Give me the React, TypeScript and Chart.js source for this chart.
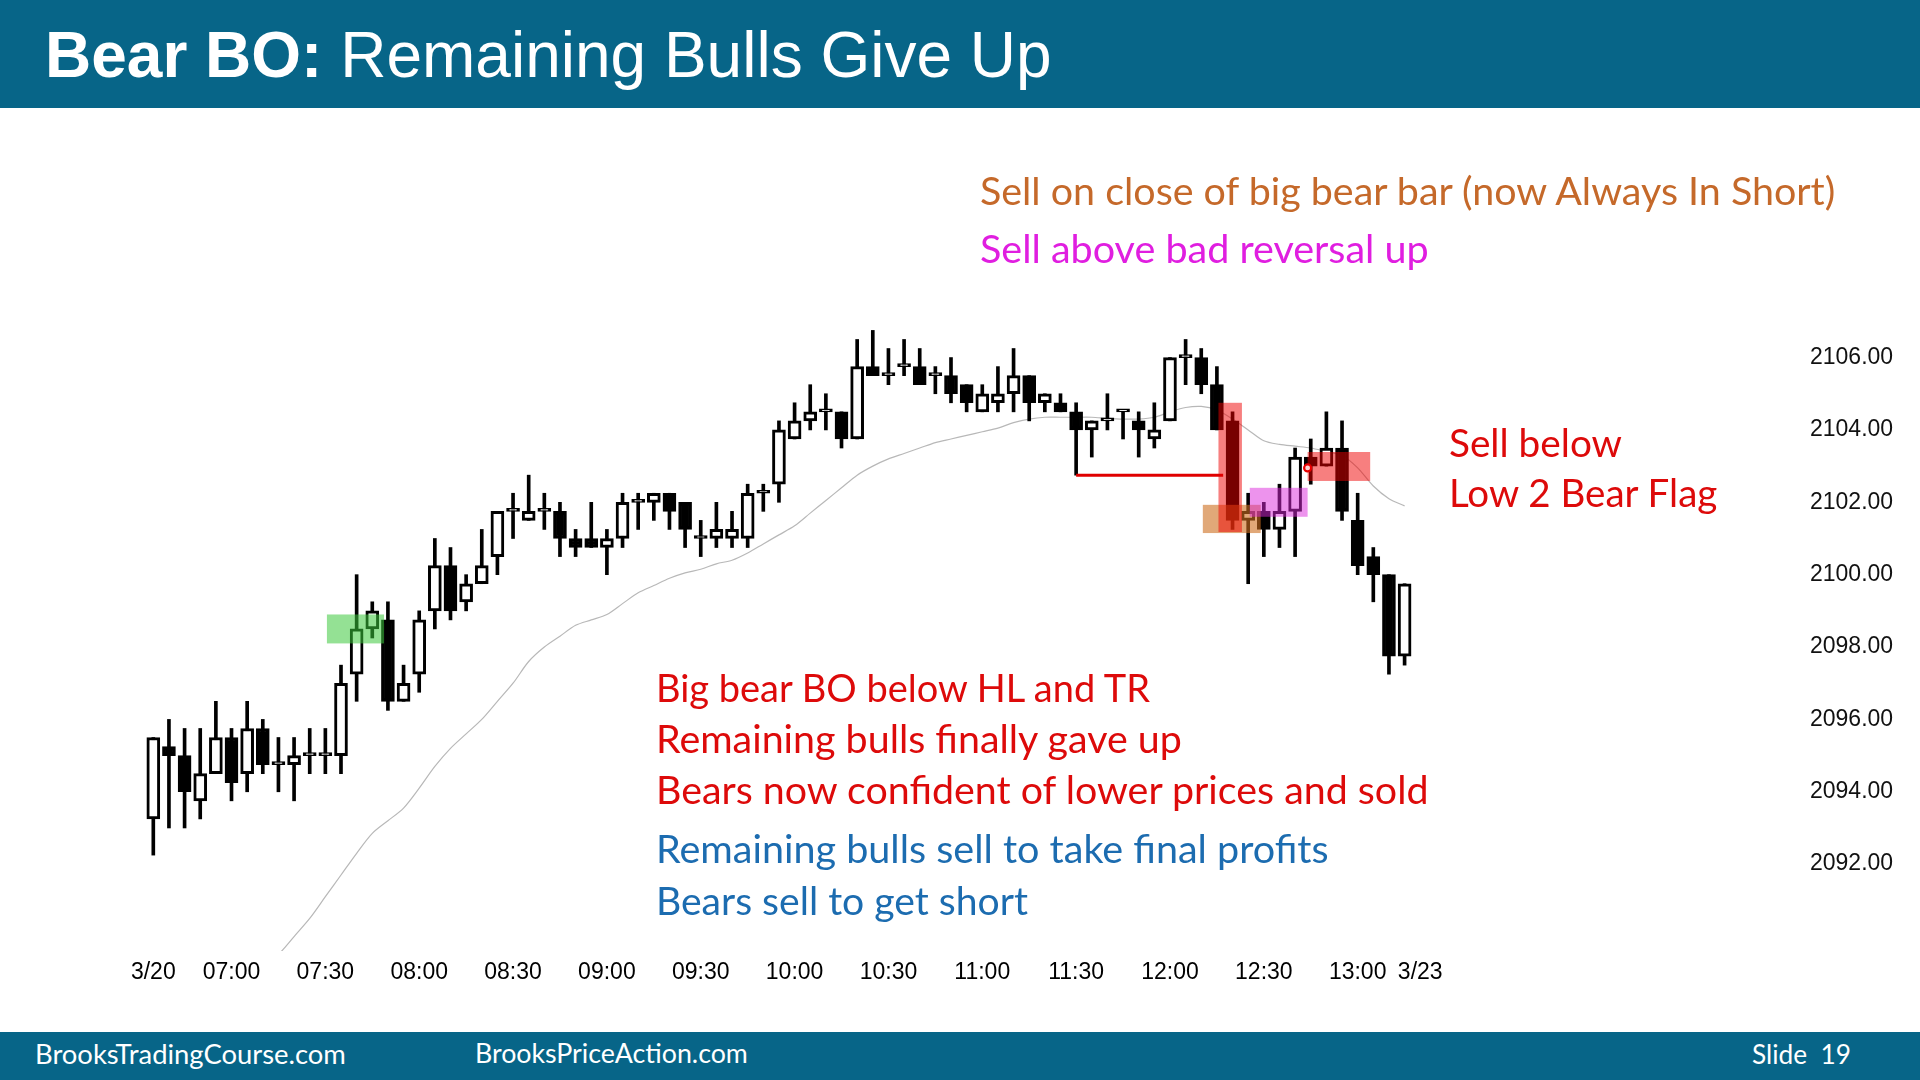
import React, { useEffect, useRef } from "react";
import { Chart, registerables } from "chart.js";

Chart.register(...registerables);

// ---------- DATA (5-minute bars, index 0 = 06:35 on 3/20) ----------
const opens = [
  2093.25, 2095.25, 2095.0, 2093.75, 2094.5, 2095.5, 2094.5, 2095.75, 2094.75, 2094.75,
  2095.0, 2095.0, 2095.0, 2097.25, 2098.5, 2098.75, 2096.5, 2097.25, 2099.0, 2100.25,
  2099.25, 2099.75, 2100.5, 2101.75, 2101.5, 2101.75, 2101.75, 2101.0, 2101.0, 2100.75,
  2101.0, 2102.0, 2102.0, 2102.25, 2102.0, 2101.0, 2101.0, 2101.0, 2101.0, 2102.25,
  2102.5, 2103.75, 2104.25, 2104.5, 2104.5, 2103.75, 2105.75, 2105.5, 2105.75, 2105.75,
  2105.5, 2105.5, 2105.25, 2104.5, 2104.75, 2105.0, 2105.5, 2104.75, 2104.75, 2104.5,
  2104.0, 2104.25, 2104.5, 2104.25, 2103.75, 2104.25, 2106.0, 2106.0, 2105.25, 2104.25,
  2101.5, 2101.75, 2101.25, 2101.75, 2103.25, 2103.0, 2103.5, 2101.5, 2100.5, 2100.0,
  2097.75,
];
const highs = [
  2095.5, 2096.0, 2095.75, 2095.75, 2096.5, 2095.75, 2096.5, 2096.0, 2095.5, 2095.5,
  2095.75, 2095.75, 2097.5, 2100.0, 2099.25, 2099.25, 2097.5, 2099.0, 2101.0, 2100.75,
  2100.0, 2101.25, 2101.75, 2102.25, 2102.75, 2102.25, 2102.0, 2101.25, 2102.0, 2101.25,
  2102.25, 2102.25, 2102.25, 2102.25, 2102.0, 2101.5, 2102.0, 2101.75, 2102.5, 2102.5,
  2104.25, 2104.75, 2105.25, 2105.0, 2104.5, 2106.5, 2106.75, 2106.25, 2106.5, 2106.25,
  2105.75, 2106.0, 2105.25, 2105.25, 2105.75, 2106.25, 2105.5, 2105.0, 2105.0, 2104.75,
  2104.25, 2105.0, 2104.5, 2104.5, 2104.75, 2106.0, 2106.5, 2106.25, 2105.75, 2104.5,
  2102.25, 2102.0, 2102.5, 2103.5, 2103.75, 2104.5, 2104.25, 2102.25, 2100.75, 2100.0,
  2099.75,
];
const lows = [
  2092.25, 2093.0, 2093.0, 2093.25, 2094.5, 2093.75, 2094.0, 2094.5, 2094.0, 2093.75,
  2094.5, 2094.5, 2094.5, 2096.5, 2098.25, 2096.25, 2096.5, 2096.75, 2098.5, 2098.75,
  2099.0, 2099.75, 2100.0, 2101.0, 2101.5, 2101.25, 2100.5, 2100.5, 2100.75, 2100.0,
  2100.75, 2101.25, 2101.5, 2101.25, 2100.75, 2100.5, 2100.75, 2100.75, 2100.75, 2101.75,
  2102.0, 2103.75, 2104.0, 2104.0, 2103.5, 2103.75, 2105.5, 2105.25, 2105.5, 2105.25,
  2105.0, 2104.75, 2104.5, 2104.5, 2104.5, 2104.5, 2104.25, 2104.5, 2104.5, 2102.75,
  2103.25, 2104.0, 2103.75, 2103.25, 2103.5, 2104.25, 2105.25, 2105.0, 2104.0, 2101.25,
  2099.75, 2100.5, 2100.75, 2100.5, 2102.5, 2103.0, 2101.5, 2100.0, 2099.25, 2097.25,
  2097.5,
];
const closes = [
  2095.5, 2095.0, 2094.0, 2094.5, 2095.5, 2094.25, 2095.75, 2094.75, 2094.75, 2095.0,
  2095.0, 2095.0, 2097.0, 2098.5, 2099.0, 2096.5, 2097.0, 2098.75, 2100.25, 2099.0,
  2099.75, 2100.25, 2101.75, 2101.75, 2101.75, 2101.75, 2101.0, 2100.75, 2100.75, 2101.0,
  2102.0, 2102.0, 2102.25, 2101.75, 2101.25, 2101.0, 2101.25, 2101.25, 2102.25, 2102.25,
  2104.0, 2104.25, 2104.5, 2104.5, 2103.75, 2105.75, 2105.5, 2105.5, 2105.75, 2105.25,
  2105.5, 2105.0, 2104.75, 2105.0, 2105.0, 2105.5, 2104.75, 2105.0, 2104.5, 2104.0,
  2104.25, 2104.25, 2104.5, 2104.0, 2104.0, 2106.0, 2106.0, 2105.25, 2104.0, 2101.5,
  2101.75, 2101.25, 2101.75, 2103.25, 2103.0, 2103.5, 2101.75, 2100.25, 2100.0, 2097.75,
  2099.75,
];
// 20-bar EMA (bars 0-4 are far below the visible area)
const ema = [
  null, null, null, null, null, 2088.1, 2088.6, 2089.1, 2089.5, 2090.0,
  2090.5, 2091.1, 2091.7, 2092.3, 2092.85, 2093.2, 2093.55, 2094.1, 2094.7, 2095.2,
  2095.6, 2096.0, 2096.5, 2097.0, 2097.6, 2098.0, 2098.3, 2098.6, 2098.75, 2098.9,
  2099.2, 2099.5, 2099.7, 2099.9, 2100.05, 2100.15, 2100.3, 2100.4, 2100.6, 2100.85,
  2101.1, 2101.35, 2101.7, 2102.05, 2102.4, 2102.75, 2103.0, 2103.2, 2103.35, 2103.5,
  2103.65, 2103.75, 2103.85, 2103.95, 2104.05, 2104.2, 2104.3, 2104.35, 2104.35, 2104.35,
  2104.35, 2104.32, 2104.3, 2104.3, 2104.35, 2104.5, 2104.62, 2104.65, 2104.55, 2104.3,
  2104.0, 2103.7, 2103.6, 2103.55, 2103.5, 2103.4, 2103.3, 2102.95, 2102.45, 2102.1,
  2101.9,
];
const tickIndex = [0, 5, 11, 17, 23, 29, 35, 41, 47, 53, 59, 65, 71, 77, 81];
const tickLabels = [
  "3/20", "07:00", "07:30", "08:00", "08:30", "09:00", "09:30", "10:00",
  "10:30", "11:00", "11:30", "12:00", "12:30", "13:00", "3/23",
];
const priceTicks = [2092, 2094, 2096, 2098, 2100, 2102, 2104, 2106];

// highlight boxes, in bar-index / price units
const boxes = [
  { x0: 11.1, x1: 14.75, lo: 2098.1, hi: 2098.9, color: "rgba(60,200,60,0.55)" },
  { x0: 67.1, x1: 70.8, lo: 2101.15, hi: 2101.93, color: "rgba(205,110,30,0.6)" },
  { x0: 68.1, x1: 69.6, lo: 2101.18, hi: 2104.75, color: "rgba(240,0,0,0.5)" },
  { x0: 70.1, x1: 73.8, lo: 2101.6, hi: 2102.4, color: "rgba(220,40,220,0.5)" },
  { x0: 73.8, x1: 77.8, lo: 2102.59, hi: 2103.39, color: "rgba(240,0,0,0.5)" },
];
const hlLine = { x0: 59, x1: 68.4, price: 2102.75 };
const signalDot = { x: 73.8, price: 2102.95 };

// ---------- STYLES ----------
const TEAL = "#076588";
const RED = "#dd0a0a";
const BLUE = "#1c6cb0";
const ORANGE = "#c5692a";
const MAGENTA = "#e01ee0";

const notes = [
  { text: "Sell on close of big bear bar (now Always In Short)", color: ORANGE, left: 980, base: 205, width: 860 },
  { text: "Sell above bad reversal up", color: MAGENTA, left: 980, base: 263, width: 449 },
  { text: "Sell below", color: RED, left: 1449, base: 457, width: 173 },
  { text: "Low 2 Bear Flag", color: RED, left: 1449, base: 507, width: 270 },
  { text: "Big bear BO below HL and TR", color: RED, left: 656, base: 703, width: 498 },
  { text: "Remaining bulls finally gave up", color: RED, left: 656, base: 753, width: 527 },
  { text: "Bears now confident of lower prices and sold", color: RED, left: 656, base: 804, width: 775 },
  { text: "Remaining bulls sell to take final profits", color: BLUE, left: 656, base: 863, width: 673 },
  { text: "Bears sell to get short", color: BLUE, left: 656, base: 915, width: 372 },
];
const footer = [
  { text: "BrooksTradingCourse.com", left: 35, base: 1064, width: 311 },
  { text: "BrooksPriceAction.com", left: 475, base: 1064, width: 273 },
  { text: "Slide  19", left: 1752, base: 1064, width: 99 },
];

let measureCtx: CanvasRenderingContext2D | null = null;
function fitSize(text: string, family: string, target: number): number {
  if (!measureCtx) measureCtx = document.createElement("canvas").getContext("2d");
  if (!measureCtx) return 30;
  measureCtx.font = `100px ${family}`;
  const w = measureCtx.measureText(text).width || 1;
  return (100 * target) / w;
}

const annotationPlugin = {
  id: "slideAnnotations",
  afterDatasetsDraw(chart: any) {
    const { ctx, chartArea, scales } = chart;
    const x = scales.x;
    const y = scales.y;
    ctx.save();
    ctx.beginPath();
    ctx.rect(chartArea.left, chartArea.top, chartArea.right - chartArea.left, chartArea.bottom - chartArea.top);
    ctx.clip();
    for (const b of boxes) {
      const px0 = x.getPixelForValue(b.x0);
      const px1 = x.getPixelForValue(b.x1);
      const py0 = y.getPixelForValue(b.hi);
      const py1 = y.getPixelForValue(b.lo);
      ctx.fillStyle = b.color;
      ctx.fillRect(px0, py0, px1 - px0, py1 - py0);
    }
    ctx.strokeStyle = "#e00000";
    ctx.lineWidth = 3;
    ctx.beginPath();
    const ly = y.getPixelForValue(hlLine.price);
    ctx.moveTo(x.getPixelForValue(hlLine.x0), ly);
    ctx.lineTo(x.getPixelForValue(hlLine.x1), ly);
    ctx.stroke();
    ctx.beginPath();
    ctx.arc(x.getPixelForValue(signalDot.x), y.getPixelForValue(signalDot.price), 3.5, 0, Math.PI * 2);
    ctx.fillStyle = "#ffd0d0";
    ctx.fill();
    ctx.lineWidth = 2.2;
    ctx.strokeStyle = "#e80000";
    ctx.stroke();
    ctx.restore();
  },
};

export default function App() {
  const ref = useRef<HTMLCanvasElement>(null);

  useEffect(() => {
    if (!ref.current) return;
    Chart.defaults.font.family = "'Liberation Sans', Arial, sans-serif";
    const chart = new Chart(ref.current, {
      type: "bar",
      data: {
        datasets: [
          {
            type: "bar",
            label: "bodies",
            data: opens.map((o, i) => ({ x: i, y: [o, closes[i]] })) as any,
            backgroundColor: opens.map((o, i) => (closes[i] >= o ? "#ffffff" : "#000000")),
            borderColor: "#000000",
            borderWidth: 3,
            borderSkipped: false,
            barThickness: 13,
            minBarLength: 3,
            grouped: false,
            order: 1,
          } as any,
          {
            type: "bar",
            label: "wicks",
            data: lows.map((l, i) => ({ x: i, y: [l, highs[i]] })) as any,
            backgroundColor: "#000000",
            borderWidth: 0,
            barThickness: 3,
            minBarLength: 1,
            grouped: false,
            order: 2,
          } as any,
          {
            type: "line",
            label: "EMA",
            data: ema.map((v, i) => ({ x: i, y: v })) as any,
            borderColor: "#b8b8b8",
            borderWidth: 1.2,
            pointRadius: 0,
            tension: 0.3,
            fill: false,
            order: 3,
          } as any,
        ],
      },
      options: {
        responsive: false,
        animation: false,
        devicePixelRatio: 1,
        layout: { padding: { left: 130, right: 10, top: 249, bottom: 89 } },
        plugins: {
          legend: { display: false },
          tooltip: { enabled: false },
          title: { display: false },
        },
        scales: {
          x: {
            type: "linear",
            min: -1.49,
            max: 105.28,
            offset: false,
            grid: { display: false, drawTicks: false },
            border: { display: false },
            ticks: {
              autoSkip: false,
              maxRotation: 0,
              minRotation: 0,
              padding: 8,
              color: "#000000",
              font: { family: "'Liberation Sans', Arial, sans-serif", size: 23 },
              callback: (v: any) => {
                const k = tickIndex.indexOf(Number(v));
                return k >= 0 ? tickLabels[k] : "";
              },
            },
            afterBuildTicks: (s: any) => {
              s.ticks = tickIndex.map((v) => ({ value: v }));
            },
            afterFit: (s: any) => {
              s.height = 40;
            },
          },
          y: {
            type: "linear",
            position: "right",
            min: 2089.6,
            max: 2109,
            beginAtZero: false,
            grid: { display: false, drawTicks: false },
            border: { display: false },
            ticks: {
              padding: 10,
              color: "#111111",
              font: { family: "'Liberation Sans', Arial, sans-serif", size: 23 },
              callback: (v: any) => Number(v).toFixed(2),
            },
            afterBuildTicks: (s: any) => {
              s.ticks = priceTicks.map((v) => ({ value: v }));
            },
            afterFit: (s: any) => {
              s.width = 110;
            },
          },
        },
      } as any,
      plugins: [annotationPlugin],
    });
    return () => chart.destroy();
  }, []);

  const noteFamily = "Lato, 'Open Sans', sans-serif";

  return (
    <div
      style={{
        position: "fixed",
        left: 0,
        top: 0,
        width: 1920,
        height: 1080,
        background: "#ffffff",
        overflow: "hidden",
      }}
    >
      <canvas
        ref={ref}
        width={1920}
        height={1080}
        style={{ position: "absolute", left: 0, top: 0, width: 1920, height: 1080 }}
      />
      <div
        style={{
          position: "absolute",
          left: 0,
          top: 0,
          width: 1920,
          height: 108,
          background: TEAL,
        }}
      />
      <div
        style={{
          position: "absolute",
          left: 45,
          top: 23,
          fontFamily: "'Liberation Sans', Arial, sans-serif",
          fontSize: 64,
          lineHeight: "64px",
          color: "#ffffff",
          whiteSpace: "pre",
        }}
      >
        <span style={{ fontWeight: 700 }}>Bear BO:</span>
        <span> Remaining Bulls Give Up</span>
      </div>
      {notes.map((n, i) => {
        const size = fitSize(n.text, noteFamily, n.width);
        return (
          <div
            key={i}
            style={{
              position: "absolute",
              left: n.left,
              top: n.base - 0.89 * size,
              fontFamily: noteFamily,
              fontSize: size,
              lineHeight: `${size}px`,
              color: n.color,
              whiteSpace: "pre",
            }}
          >
            {n.text}
          </div>
        );
      })}
      <div
        style={{
          position: "absolute",
          left: 0,
          top: 1032,
          width: 1920,
          height: 48,
          background: TEAL,
        }}
      />
      {footer.map((f, i) => {
        const size = fitSize(f.text, noteFamily, f.width);
        return (
          <div
            key={i}
            style={{
              position: "absolute",
              left: f.left,
              top: f.base - 0.89 * size,
              fontFamily: noteFamily,
              fontSize: size,
              lineHeight: `${size}px`,
              color: "#ffffff",
              whiteSpace: "pre",
            }}
          >
            {f.text}
          </div>
        );
      })}
    </div>
  );
}
